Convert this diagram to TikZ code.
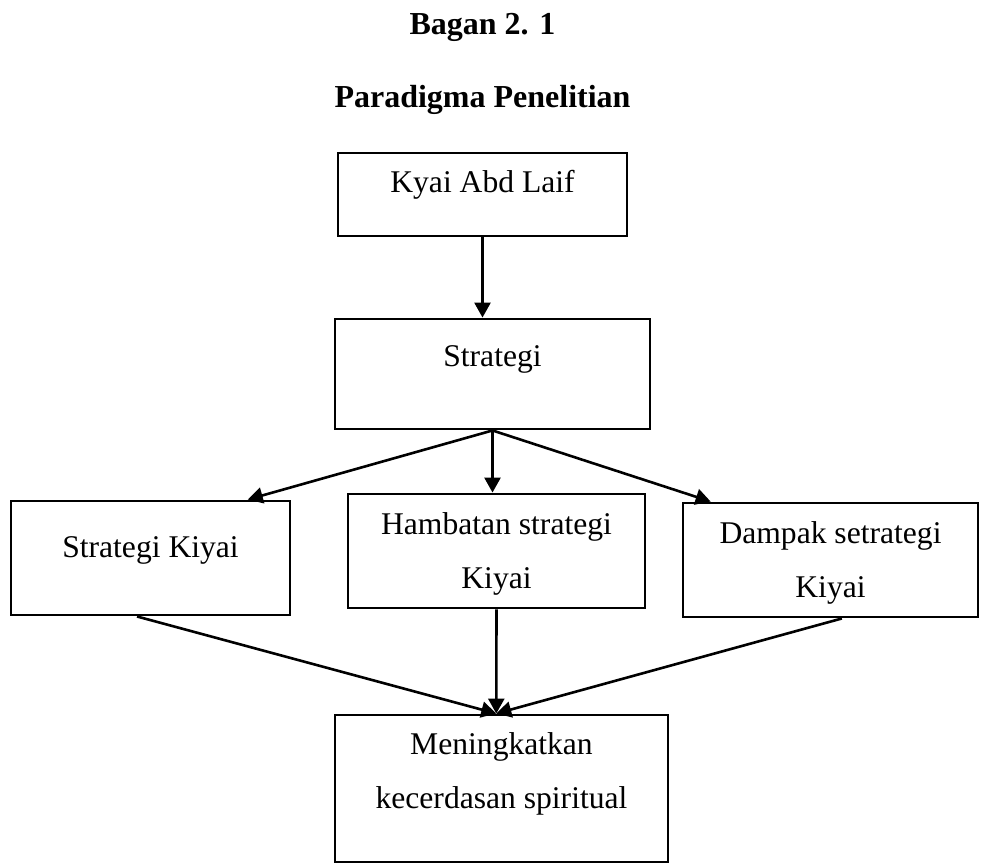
\documentclass[tikz,border=0pt]{standalone}
\usepackage{fontspec}
\setmainfont{Liberation Serif}
\usetikzlibrary{arrows.meta}

\begin{document}
\begin{tikzpicture}[x=0.5pt,y=-0.5pt,
  box/.style={draw,line width=1.45pt,inner sep=0pt,align=center,font=\fontsize{15.8}{27}\selectfont},
  arr/.style={-{Triangle[length=7.5pt,width=8pt]},line width=1.3pt}]
\useasboundingbox (0,0) rectangle (983,864);
\node[anchor=base,font=\fontsize{16}{19}\selectfont\bfseries] (bagan) at (482.5,34) {Bagan 2. 1};
\node[anchor=base,font=\fontsize{16}{19}\selectfont\bfseries] (judul) at (482.5,107) {Paradigma Penelitian};
\node[box,minimum width=144.5pt,text height=19.5pt,text depth=22pt] (kyai) at (482.5,194.5) {Kyai Abd Laif};
\node[box,minimum width=157.5pt,text height=23.75pt,text depth=31.25pt] (strategi) at (492.5,374) {Strategi};
\node[box,minimum width=139.5pt,text height=28pt,text depth=29pt] (sk) at (150.5,558) {Strategi Kiyai};
\node[box,minimum width=148.5pt,text height=47pt,text depth=10pt] (hambatan) at (496.5,551) {Hambatan strategi\\Kiyai};
\node[box,minimum width=147.5pt,text height=47pt,text depth=10pt] (dampak) at (830.5,560) {Dampak setrategi\\Kiyai};
\node[box,minimum width=166.5pt,text height=46.5pt,text depth=27pt] (hasil) at (501.5,788.5) {Meningkatkan\\kecerdasan spiritual};
\draw[arr] (kyai.south) -- (kyai.south |- strategi.north);
\draw[arr] (strategi.south) -- (sk.31);
\draw[arr] (strategi.south) -- (strategi.south |- hambatan.north);
\draw[arr] (strategi.south) -- (dampak.154);
\draw[arr] (sk.257) -- (hasil.94);
\draw[arr] (hambatan.south) -- (hasil.94);
\draw[arr] (dampak.281) -- (hasil.94);
\end{tikzpicture}
\end{document}
